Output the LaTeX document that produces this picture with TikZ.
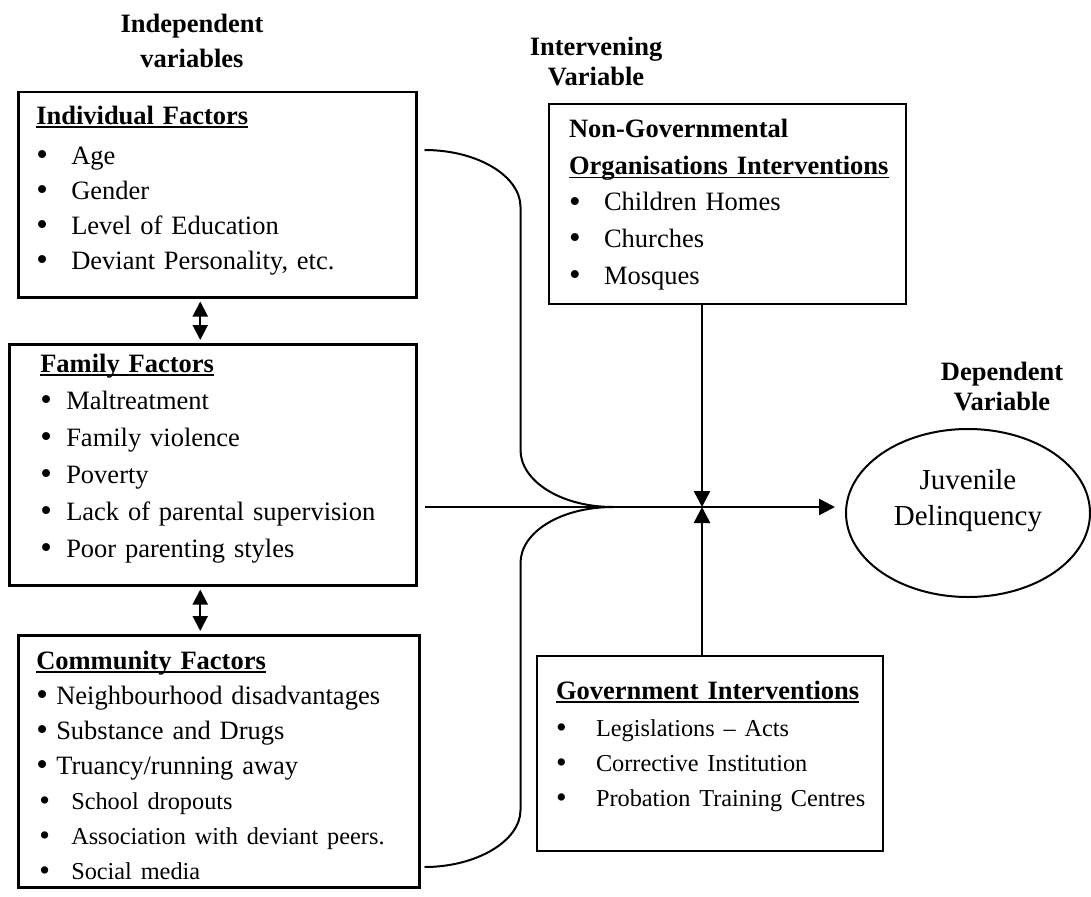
\documentclass[tikz,border=0pt]{standalone}
\usepackage{fontspec}
\setmainfont{Liberation Serif}
\usetikzlibrary{arrows.meta,positioning,shapes.geometric}
\newcommand{\itm}[2][35pt]{\mbox{\makebox[#1][l]{\raisebox{-0.05em}{\scalebox{1.25}{\textbullet}}}#2}}
\newcommand{\sm}{\fontsize{24.3}{35}\selectfont}
\newcommand{\uln}[1]{\leavevmode\setbox0\hbox{#1}\rlap{\rule[-4pt]{\wd0}{1.8pt}}\box0}
\tikzset{
    %Define standard arrow tip
    >={Triangle[length=16pt,width=16pt]},
    %Define style for boxes
    factor/.style={
           rectangle,
           draw=black, line width=2.5pt,
           anchor=north west,
           align=left,
           inner ysep=0pt,
           font=\fontsize{26.5}{35}\selectfont},
    heading/.style={
           align=center,
           font=\fontsize{26.5}{35}\selectfont\bfseries},
    % Define arrow style
    pil/.style={
           ->,
           line width=2.5pt},
    dobbel/.style={
           {Triangle[length=15pt,width=15pt]}-{Triangle[length=15pt,width=15pt]},
           line width=2pt,
           shorten <=3pt,
           shorten >=3pt},
    link/.style={line width=2pt}
}
\begin{document}
\begin{tikzpicture}[x=1pt,y=-1pt]
\useasboundingbox (0,0) rectangle (1091,896);

 %headings
\node[heading](indep) at (192,41){Independent\\variables};
\node[heading](interv) at (596,62){Intervening\\[-5pt]Variable};
\node[heading](dep) at (1002,387){Dependent\\[-5pt]Variable};

 %nodes
\node[factor, text width=362pt, inner xsep=18pt, text height=32pt, text depth=173pt](ind) at (17,91){%
  \uln{\textbf{Individual Factors}}\\[5pt]
  \itm{Age}\\
  \itm{Gender}\\
  \itm{Level of Education}\\
  \itm{Deviant Personality, etc.}};
\node[factor, text width=345pt, inner xsep=31pt, text height=28pt, text depth=213pt,
  font=\fontsize{26.5}{37}\selectfont](fam) at (8,343){%
  \uln{\textbf{Family Factors}}\\
  \itm[26pt]{Maltreatment}\\
  \itm[26pt]{Family violence}\\
  \itm[26pt]{Poverty}\\
  \itm[26pt]{Lack of parental supervision}\\
  \itm[26pt]{Poor parenting styles}};
\node[factor, text width=365pt, inner xsep=18pt, text height=34pt, text depth=218pt](com) at (17,634){%
  \uln{\textbf{Community Factors}}\\
  \itm[20pt]{Neighbourhood disadvantages}\\
  \itm[20pt]{Substance and Drugs}\\
  \itm[20pt]{Truancy/running away}\\
  {\sm\hspace*{3pt}\itm[32pt]{School dropouts}}\\
  {\sm\hspace*{3pt}\itm[32pt]{Association with deviant peers.}}\\
  {\sm\hspace*{3pt}\itm[32pt]{Social media}}};
\node[factor, line width=2pt, text width=317pt, inner xsep=20pt, text height=34pt, text depth=166pt,
  font=\fontsize{26.5}{36.5}\selectfont](ngo) at (548,103){%
  \textbf{Non-Governmental}\\
  \uln{\textbf{Organisations Interventions}}\\
  \itm[35pt]{Children Homes}\\
  \itm[35pt]{Churches}\\
  \itm[35pt]{Mosques}};
\node[factor, line width=2pt, text width=308pt, inner xsep=19pt, text height=43pt, text depth=152pt](gov) at (536,655){%
  \uln{\textbf{Government Interventions}}\\[2pt]
  {\sm\itm[40pt]{Legislations -- Acts}}\\
  {\sm\itm[40pt]{Corrective Institution}}\\
  {\sm\itm[40pt]{Probation Training Centres}}};
\node[ellipse, draw, line width=2pt, minimum width=244pt, minimum height=168pt, inner sep=0pt,
  align=center, font=\fontsize{29}{36}\selectfont](jd) at (968,513){Juvenile\\Delinquency\\[-4pt]};

\coordinate (merge) at (613,507);
\coordinate (hit) at (702,507);

 %links
\draw[dobbel] ([xshift=-17pt]ind.south) -- ([xshift=-17pt]ind.south |- fam.north);
\draw[dobbel] ([xshift=-12.5pt]fam.south) -- ([xshift=-12.5pt]fam.south |- com.north);

\draw[link] ([shift={(7,59)}]ind.north east) .. controls +(53,0) and +(0,-31) .. ++(96,57)
  -- ++(0,243) .. controls +(0,31) and +(-52,0) .. (merge);
\draw[link] ([xshift=7pt]fam.east |- merge) -- (merge);
\draw[link] ([shift={(4,233)}]com.north east) .. controls +(52,0) and +(0,31) .. ++(96,-57)
  -- ++(0,-247) .. controls +(0,-31) and +(-52,0) .. (merge);

\draw[pil, shorten >=10pt] (merge) -- (merge -| jd.west);
\draw[pil] (ngo.south -| hit) -- (hit);
\draw[pil] (gov.north -| hit) -- (hit);

\end{tikzpicture}
\end{document}
